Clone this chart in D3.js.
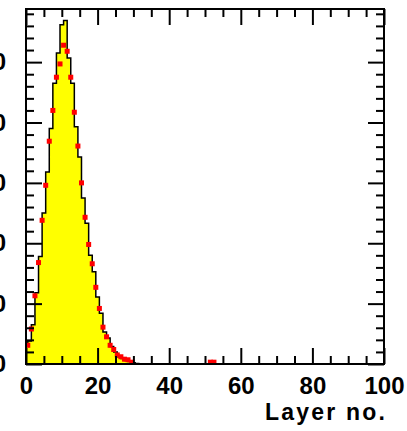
<!DOCTYPE html>
<html>
<head>
<meta charset="utf-8">
<script src="https://cdn.jsdelivr.net/npm/d3@7"></script>
<style>
  body { margin: 0; background: #fff; }
  .axis text { font-family: "Liberation Sans", Arial, sans-serif; font-weight: bold; font-size: 24px; fill: #000; }
  .axis line { stroke: #000; stroke-width: 2; }
</style>
</head>
<body>
<script>
// Histogram (yellow): one bin per layer, centred on the layer number
var histLayers = [0, 1, 2, 3, 4, 5, 6, 7, 8, 9, 10, 11, 12, 13, 14, 15, 16, 17, 18, 19,
                  20, 21, 22, 23, 24, 25, 26, 27, 28, 29, 30, 31];
var histCounts = [31, 38, 65, 118, 178, 250, 318, 390, 465, 515, 562, 569, 507, 465, 393, 343,
                  275, 233, 180, 153, 111, 84, 53, 43, 29, 20, 12, 9, 6, 4, 2, 1];

// Red markers, one per layer bin edge
var pointLayers = [0, 1, 2, 3, 4, 5, 6, 7, 8, 9, 10, 11, 12, 13, 14, 15, 16, 17, 18, 19,
                   20, 21, 22, 23, 24, 25, 26, 27, 28, 29, 51, 52];
var pointCounts = [31, 58, 113, 168, 238, 296, 369, 420, 475, 497, 528, 518, 475, 417, 361, 300,
                   243, 198, 166, 127, 92, 61, 45, 31, 24, 15, 12, 8, 7, 3, 3, 3];

var xMajor = [0, 20, 40, 60, 80, 100];
var xMinor = [5, 10, 15, 25, 30, 35, 45, 50, 55, 65, 70, 75, 85, 90, 95];
var yMajor = [0, 100, 200, 300, 400, 500];
var yMinor = [20, 40, 60, 80, 120, 140, 160, 180, 220, 240, 260, 280,
              320, 340, 360, 380, 420, 440, 460, 480, 520, 540, 560, 580];

var margin = {top: 9, right: 23, bottom: 67, left: 26},
    width = 407 - margin.left - margin.right,
    height = 431 - margin.top - margin.bottom;

var xScale = d3.scaleLinear().domain([0, 100]).range([0, width]);
var yScale = d3.scaleLinear().domain([0, 588]).range([height, 0]);

var svg = d3.select("body").append("svg")
    .attr("width", 407)
    .attr("height", 431)
  .append("g")
    .attr("transform", "translate(" + margin.left + "," + margin.top + ")");

// Build the step outline of the histogram
var steps = [];
histLayers.forEach(function(k, i) {
  steps.push([Math.max(0, k - 0.5), histCounts[i]]);
  steps.push([k + 0.5, histCounts[i]]);
});
steps.unshift([0, 0]);
steps.push([steps[steps.length - 1][0], 0]);

var line = d3.line()
    .x(function(d) { return xScale(d[0]); })
    .y(function(d) { return yScale(d[1]); });

svg.append("path")
    .datum(steps)
    .attr("d", line)
    .attr("fill", "#ffff00")
    .attr("stroke", "#000")
    .attr("stroke-width", 1.5);

// Markers
svg.selectAll("rect.pt")
    .data(pointLayers.map(function(k, i) { return {x: k + 0.5, y: pointCounts[i]}; }))
  .enter().append("rect")
    .attr("class", "pt")
    .attr("x", function(d) { return xScale(d.x) - 2.5; })
    .attr("y", function(d) { return yScale(d.y) - 2.5; })
    .attr("width", 5)
    .attr("height", 5)
    .attr("fill", "#ff0000");

// Axes: ticks pointing inwards on all four sides
function addAxis(axis, transform) {
  var g = svg.append("g").attr("class", "axis").attr("transform", transform).call(axis);
  g.select(".domain").remove();
  return g;
}

addAxis(d3.axisBottom(xScale).tickValues(xMajor).tickSize(-16).tickPadding(13)
    .tickFormat(d3.format("d")), "translate(0," + height + ")");
addAxis(d3.axisBottom(xScale).tickValues(xMinor).tickSize(-8).tickFormat(""),
    "translate(0," + height + ")");
addAxis(d3.axisTop(xScale).tickValues(xMajor).tickSize(-16).tickFormat(""), "translate(0,0)");
addAxis(d3.axisTop(xScale).tickValues(xMinor).tickSize(-8).tickFormat(""), "translate(0,0)");

addAxis(d3.axisLeft(yScale).tickValues(yMajor).tickSize(-16).tickPadding(20)
    .tickFormat(d3.format("d")), "translate(0,0)");
addAxis(d3.axisLeft(yScale).tickValues(yMinor).tickSize(-8).tickFormat(""), "translate(0,0)");
addAxis(d3.axisRight(yScale).tickValues(yMajor).tickSize(-16).tickFormat(""),
    "translate(" + width + ",0)");
addAxis(d3.axisRight(yScale).tickValues(yMinor).tickSize(-8).tickFormat(""),
    "translate(" + width + ",0)");

// Frame
svg.append("rect")
    .attr("width", width)
    .attr("height", height)
    .attr("fill", "none")
    .attr("stroke", "#000")
    .attr("stroke-width", 2);

// Axis title
svg.append("text")
    .attr("x", width + 3)
    .attr("y", height + 56)
    .style("text-anchor", "end")
    .style("font-family", "'Liberation Sans', Arial, sans-serif")
    .style("font-weight", "bold")
    .style("font-size", "23px")
    .style("letter-spacing", "2.2px")
    .text("Layer no.");
</script>
</body>
</html>
